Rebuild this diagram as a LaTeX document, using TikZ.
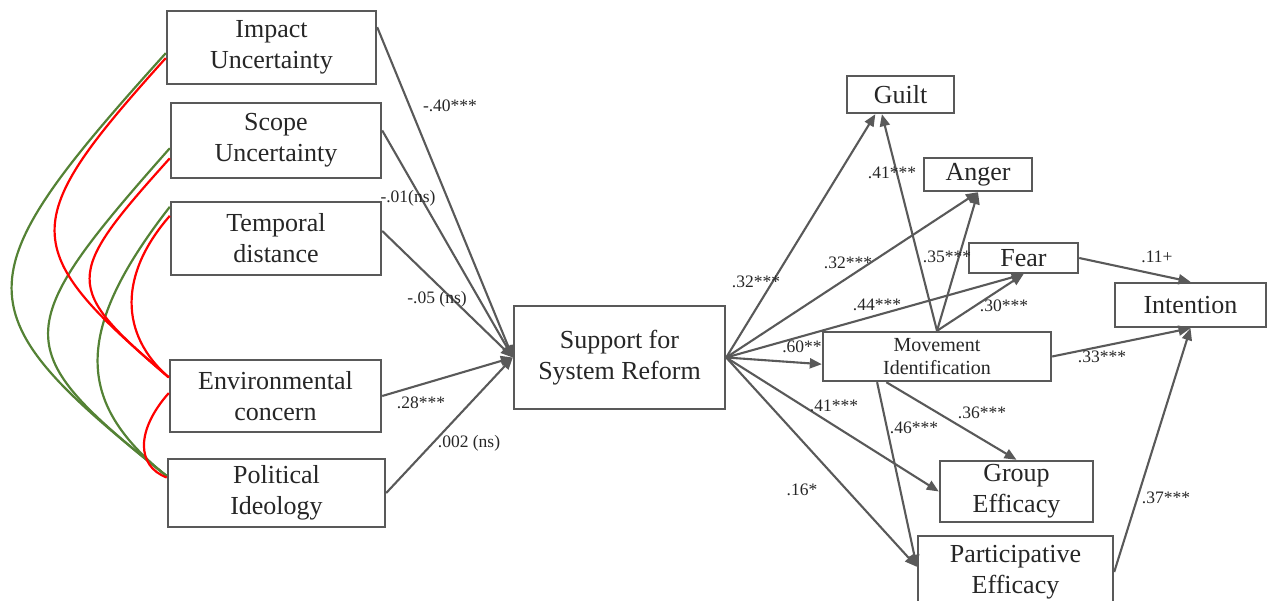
\documentclass[tikz,border=0pt]{standalone}
\usepackage{fontspec}
\setmainfont{Liberation Serif}
\usetikzlibrary{arrows.meta,calc}
\definecolor{edgegray}{HTML}{595959}
\definecolor{covred}{HTML}{FF0000}
\definecolor{covgreen}{HTML}{548235}
\definecolor{txt}{HTML}{262626}
\begin{document}
\begin{tikzpicture}[x=1pt,y=-1pt,
  box/.style={draw=edgegray, line width=2.4pt, fill=white, inner sep=0pt, align=center,
    text=txt, font=\fontsize{26}{31}\selectfont},
  smallbox/.style={box, font=\fontsize{20}{23}\selectfont},
  conn/.style={draw=edgegray, line width=2.1pt, -{Triangle[length=12pt,width=10pt]}},
  lbl/.style={text=txt, font=\fontsize{17.5}{20}\selectfont, inner sep=0pt},
  cov/.style={line width=2.2pt},
]
\useasboundingbox (0,0) rectangle (1267,601);

% predictors
\node[box, minimum width=209pt, minimum height=73pt] (imp) at (271.5,47.5) {Impact\\Uncertainty};
\node[box, minimum width=210pt, minimum height=75pt] (scp) at (276,140.5) {Scope\\Uncertainty};
\node[box, minimum width=210pt, minimum height=73pt] (tmp) at (276,238.5) {Temporal\\distance};
\node[box, minimum width=211pt, minimum height=72pt] (env) at (275.5,396) {Environmental\\concern};
\node[box, minimum width=217pt, minimum height=68pt] (pol) at (276.5,493) {Political\\Ideology};

% mediator and outcomes
\node[box, minimum width=211pt, minimum height=103pt] (sup) at (619.5,357.5) {Support for\\System Reform};
\node[box, minimum width=107pt, minimum height=37pt] (gui) at (900.5,94.5) {Guilt};
\node[box, minimum width=108pt, minimum height=33pt] (ang) at (978,174.5) {Anger};
\node[box, minimum width=109pt, minimum height=30pt] (fea) at (1023.5,258) {Fear};
\node[smallbox, minimum width=228pt, minimum height=49pt] (mov) at (937,356.5) {Movement\\Identification};
\node[box, minimum width=151pt, minimum height=44pt] (int) at (1190.5,305) {Intention};
\node[box, minimum width=153pt, minimum height=61pt] (grp) at (1016.5,491.5) {Group\\Efficacy};
\node[box, minimum width=195pt, minimum height=72pt] (par) at (1015.5,572) {Participative\\Efficacy};

% correlations among predictors
\draw[cov, covgreen] ($(imp.north west)!0.575!(imp.south west)$) .. controls (-40,281) and (-40,311) .. ($(pol.north west)!0.26!(pol.south west)$);
\draw[cov, covgreen] ($(scp.north west)!0.6!(scp.south west)$) .. controls (8,331) and (8,349) .. ($(pol.north west)!0.26!(pol.south west)$);
\draw[cov, covgreen] ($(tmp.north west)!0.08!(tmp.south west)$) .. controls (74,330) and (74,402) .. ($(pol.north west)!0.26!(pol.south west)$);
\draw[cov, covred] ($(imp.north west)!0.64!(imp.south west)$) .. controls (17,223) and (17,248) .. ($(env.north west)!0.25!(env.south west)$);
\draw[cov, covred] ($(scp.north west)!0.73!(scp.south west)$) .. controls (63,277) and (63,287) .. ($(env.north west)!0.25!(env.south west)$);
\draw[cov, covred] ($(tmp.north west)!0.2!(tmp.south west)$) .. controls (119,274) and (119,334) .. ($(env.north west)!0.25!(env.south west)$);
\draw[cov, covred] ($(env.north west)!0.46!(env.south west)$) .. controls (136,430) and (136,466) .. ($(pol.north west)!0.28!(pol.south west)$);

% predictors -> support
\draw[conn] ($(imp.north east)!0.23!(imp.south east)$) -- (sup.west);
\draw[conn] ($(scp.north east)!0.37!(scp.south east)$) -- (sup.west);
\draw[conn] ($(tmp.north east)!0.40!(tmp.south east)$) -- (sup.west);
\draw[conn] (env.east) -- (sup.west);
\draw[conn] (pol.east) -- (sup.west);

% support -> outcomes
\draw[conn] (sup.east) -- ($(gui.south west)!0.27!(gui.south east)$);
\draw[conn] (sup.east) -- (ang.south);
\draw[conn] (sup.east) -- (fea.south);
\draw[conn] (sup.east) -- ($(mov.north west)!0.65!(mov.south west)$);
\draw[conn] (sup.east) -- (grp.west);
\draw[conn] (sup.east) -- ($(par.north west)!0.43!(par.south west)$);

% movement identification -> outcomes
\draw[conn] (mov.north) -- ($(gui.south west)!0.33!(gui.south east)$);
\draw[conn] (mov.north) -- (ang.south);
\draw[conn] (mov.north) -- (fea.south);
\draw[conn] (mov.east) -- (int.south);
\draw[conn] ($(mov.south west)!0.28!(mov.south east)$) -- (grp.north);
\draw[conn] ($(mov.south west)!0.24!(mov.south east)$) -- ($(par.north west)!0.43!(par.south west)$);

% to intention
\draw[conn] (fea.east) -- (int.north);
\draw[conn] (par.east) -- (int.south);

% path coefficients
\node[lbl] (l1) at (450,106) {-.40***};
\node[lbl] (l2) at (408,198) {-.01(ns)};
\node[lbl] (l3) at (437,299) {-.05 (ns)};
\node[lbl] (l4) at (421,403) {.28***};
\node[lbl] (l5) at (469,443) {.002 (ns)};
\node[lbl] (r1) at (756,282) {.32***};
\node[lbl] (r2) at (848,263) {.32***};
\node[lbl] (r3) at (877,305) {.44***};
\node[lbl] (r4) at (802,347) {.60**};
\node[lbl] (r5) at (892,173) {.41***};
\node[lbl] (r6) at (947,257) {.35***};
\node[lbl] (r7) at (1004,306) {.30***};
\node[lbl] (r8) at (1102,357) {.33***};
\node[lbl] (r9) at (834,406) {.41***};
\node[lbl] (r10) at (982,413) {.36***};
\node[lbl] (r11) at (914,428) {.46***};
\node[lbl] (r12) at (802,490) {.16*};
\node[lbl] (r13) at (1166,498) {.37***};
\node[lbl] (r14) at (1157,257) {.11+};
\end{tikzpicture}
\end{document}
